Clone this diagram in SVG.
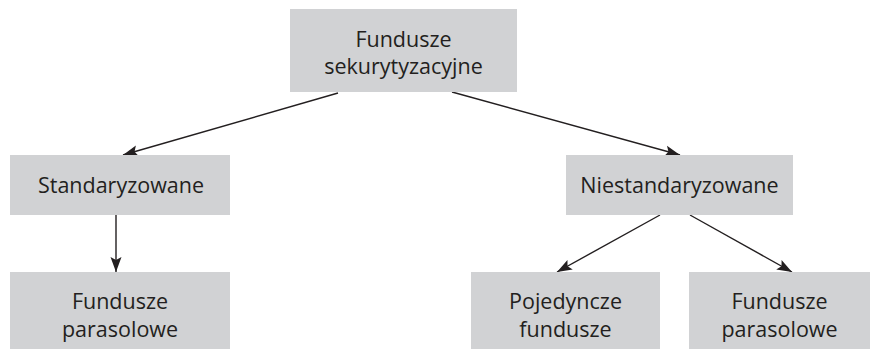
<svg xmlns="http://www.w3.org/2000/svg" width="870" height="350" viewBox="0 0 870 350">
  <style>
    .box { fill: #d1d2d4; }
    .label { font-family: "Open Sans", "Noto Sans", "Liberation Sans", sans-serif; font-size: 21.5px; fill: #231f20; text-anchor: middle; }
    .edge { stroke: #231f20; stroke-width: 1.4; fill: none; marker-end: url(#arrow); }
  </style>
  <defs>
    <marker id="arrow" markerUnits="userSpaceOnUse" markerWidth="18" markerHeight="14" viewBox="-16 -7 18 14" refX="0" refY="0" orient="auto">
      <path d="M0,0 L-15,-5.5 L-12,0 L-15,5.5 Z" fill="#231f20"/>
    </marker>
  </defs>
  <rect width="870" height="350" fill="#ffffff"/>

  <g id="connectors">
    <line class="edge" x1="338" y1="93" x2="123" y2="155"/>
    <line class="edge" x1="452" y1="92" x2="680" y2="155"/>
    <line class="edge" x1="116" y1="215" x2="116" y2="272"/>
    <line class="edge" x1="660" y1="215" x2="557" y2="272"/>
    <line class="edge" x1="690" y1="215" x2="792" y2="272"/>
  </g>

  <g id="fundusze-sekurytyzacyjne">
    <rect class="box" x="290" y="9" width="227" height="83"/>
    <text class="label" x="403.5" y="47">Fundusze</text>
    <text class="label" x="403.5" y="74">sekurytyzacyjne</text>
  </g>

  <g id="standaryzowane">
    <rect class="box" x="10" y="155" width="220" height="60"/>
    <text class="label" x="121" y="193">Standaryzowane</text>
  </g>

  <g id="niestandaryzowane">
    <rect class="box" x="566" y="155" width="227" height="60"/>
    <text class="label" x="679.5" y="193">Niestandaryzowane</text>
  </g>

  <g id="fundusze-parasolowe-1">
    <rect class="box" x="10" y="272" width="220" height="77"/>
    <text class="label" x="120" y="309">Fundusze</text>
    <text class="label" x="120" y="337">parasolowe</text>
  </g>

  <g id="pojedyncze-fundusze">
    <rect class="box" x="471" y="272" width="189" height="77"/>
    <text class="label" x="565.5" y="309">Pojedyncze</text>
    <text class="label" x="565.5" y="337">fundusze</text>
  </g>

  <g id="fundusze-parasolowe-2">
    <rect class="box" x="689" y="272" width="181" height="77"/>
    <text class="label" x="779.5" y="309">Fundusze</text>
    <text class="label" x="779.5" y="337">parasolowe</text>
  </g>
</svg>
